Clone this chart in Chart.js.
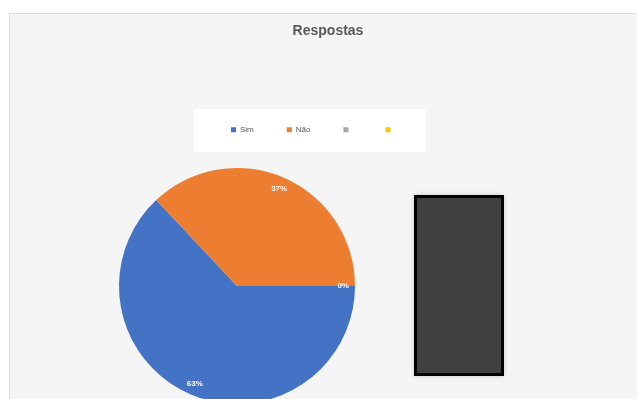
<!DOCTYPE html>
<html>
<head>
<meta charset="utf-8">
<script src="https://cdn.jsdelivr.net/npm/chart.js@4.4.1/dist/chart.umd.min.js"></script>
<style>
  html, body { margin: 0; padding: 0; background: #ffffff; overflow: hidden; width: 637px; height: 399px; }
  #frame { position: absolute; left: 9px; top: 13px; width: 640px; height: 400px; box-sizing: border-box;
           border: 1px solid #dcdcdc; background: #f5f5f5; }
  #chart { position: absolute; left: 9px; top: 13px; }
</style>
</head>
<body>
<div id="frame"></div>
<canvas id="chart" width="638" height="400"></canvas>
<script>
// Survey answers
const chartTitle = 'Respostas';
const categories = ['Sim', 'Não', '', ''];
const responses = [63, 37, 0, null];
const sliceColors = ['#4472C4', '#ED7D31', '#A5A5A5', '#FFC000'];

Chart.defaults.font.family = "'Liberation Sans', Arial, sans-serif";

// Positions the pie square and the legend row inside the canvas
const placement = {
  id: 'placement',
  afterLayout(chart) {
    const cx = 228, cy = 273, half = 121;
    Object.assign(chart.chartArea, {
      left: cx - half, right: cx + half, top: cy - half, bottom: cy + half,
      width: 2 * half, height: 2 * half
    });
    const lg = chart.legend;
    const pad = lg.options.labels.padding;
    const start = (lg.left + pad + lg.right - lg.lineWidths[0]) / 2;
    const shift = 222 - start;
    lg.left += shift;
    lg.right += shift;
  }
};

// White legend panel and the dark block on the right
const decorations = {
  id: 'decorations',
  beforeDraw(chart) {
    const ctx = chart.ctx;
    ctx.save();
    ctx.fillStyle = '#ffffff';
    ctx.fillRect(185, 96, 232, 43);

    ctx.shadowColor = 'rgba(0,0,0,0.18)';
    ctx.shadowBlur = 5;
    ctx.fillStyle = '#000000';
    ctx.fillRect(405, 182, 90, 181);
    ctx.shadowColor = 'transparent';
    ctx.shadowBlur = 0;
    ctx.fillStyle = '#404040';
    ctx.fillRect(408, 185, 84, 175);
    ctx.restore();
  }
};

// Percentage labels near the outer edge of each slice
const sliceLabels = {
  id: 'sliceLabels',
  afterDatasetsDraw(chart) {
    const ctx = chart.ctx;
    const values = chart.data.datasets[0].data;
    const total = values.reduce((s, v) => s + (v == null ? 0 : v), 0);
    const meta = chart.getDatasetMeta(0);
    ctx.save();
    ctx.fillStyle = '#ffffff';
    ctx.font = "bold 8px 'Liberation Sans', Arial, sans-serif";
    ctx.textAlign = 'center';
    ctx.textBaseline = 'middle';
    meta.data.forEach((arc, i) => {
      const v = values[i];
      if (v == null) return;
      const p = arc.getProps(['x', 'y', 'startAngle', 'endAngle', 'outerRadius'], true);
      const mid = (p.startAngle + p.endAngle) / 2;
      const r = p.outerRadius * 0.9;
      ctx.fillText(Math.round(v / total * 100) + '%', p.x + Math.cos(mid) * r, p.y + Math.sin(mid) * r);
    });
    ctx.restore();
  }
};

new Chart(document.getElementById('chart'), {
  type: 'pie',
  data: {
    labels: categories,
    datasets: [{
      data: responses,
      backgroundColor: sliceColors,
      borderWidth: 0,
      radius: 118
    }]
  },
  options: {
    responsive: false,
    devicePixelRatio: 1,
    animation: false,
    rotation: 90,
    layout: { padding: 0 },
    plugins: {
      title: {
        display: true,
        text: chartTitle,
        color: '#595959',
        font: { size: 14, weight: 'bold' },
        padding: { top: 10, bottom: 53 }
      },
      legend: {
        display: true,
        position: 'top',
        labels: {
          boxWidth: 5,
          boxHeight: 5,
          padding: 33,
          color: '#595959',
          font: { size: 8 }
        }
      },
      tooltip: { enabled: false }
    }
  },
  plugins: [placement, decorations, sliceLabels]
});
</script>
</body>
</html>
